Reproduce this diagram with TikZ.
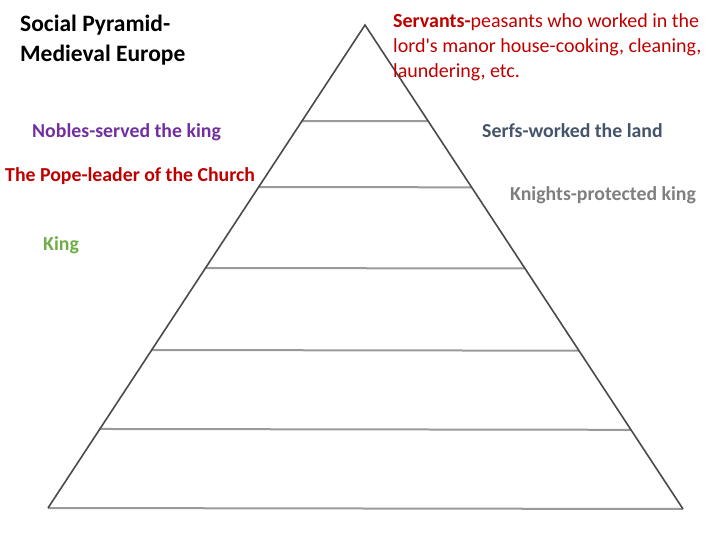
\documentclass[tikz,border=0pt]{standalone}
\usepackage{fontspec}
\setmainfont{Carlito}
\usetikzlibrary{calc}
\definecolor{edgec}{HTML}{4A4A4A}
\definecolor{tierc}{HTML}{9A9A9A}
\definecolor{nobc}{HTML}{7030A0}
\definecolor{redc}{HTML}{C00000}
\definecolor{kingc}{HTML}{70AD47}
\definecolor{serfc}{HTML}{44546A}
\definecolor{knc}{HTML}{7F7F7F}
\tikzset{
  edge/.style={draw=edgec, line width=1.6pt, line join=miter},
  tier/.style={draw=tierc, line width=2pt},
  lbl/.style={anchor=base west, inner sep=0pt, font=\fontsize{19.8}{23}\selectfont\bfseries},
  ttl/.style={anchor=base west, inner sep=0pt, font=\fontsize{23.5}{28}\selectfont\bfseries},
  srv/.style={anchor=base west, inner sep=0pt, text=redc, font=\fontsize{20}{24}\selectfont},
}
\begin{document}
\begin{tikzpicture}[x=1pt,y=-1pt]
\useasboundingbox (0,0) rectangle (720,540);
\coordinate (apex) at (365,25);
\coordinate (bl) at (48,508);
\coordinate (br) at (683,509);
% tiers
\foreach \t [count=\i] in {0.1988,0.3354,0.5031,0.6729,0.8364} {
  \coordinate (l\i) at ($(apex)!\t!(bl)$);
  \coordinate (r\i) at ($(apex)!\t!(br)$);
  \draw[tier] (l\i) -- (r\i);
}
\draw[tier] (bl) -- (br);
\draw[edge] (bl) -- (apex) -- (br);
% title
\node[ttl] (title1) at (20,32) {Social Pyramid-};
\node[ttl] (title2) at (20,62) {Medieval Europe};
% labels
\node[lbl, text=nobc] (nobles) at (32,138) {Nobles-served the king};
\node[lbl, text=redc] (pope) at (5,182) {The Pope-leader of the Church};
\node[lbl, text=kingc] (king) at (43,250) {King};
\node[lbl, text=serfc] (serfs) at (482,138) {Serfs-worked the land};
\node[lbl, text=knc] (knights) at (510,201) {Knights-protected king};
\node[srv] (servants1) at (393,28) {\textbf{Servants-}peasants who worked in the};
\node[srv] (servants2) at (393,53) {lord\textquotesingle s manor house-cooking, cleaning,};
\node[srv] (servants3) at (393,78) {laundering, etc.};
\end{tikzpicture}
\end{document}
